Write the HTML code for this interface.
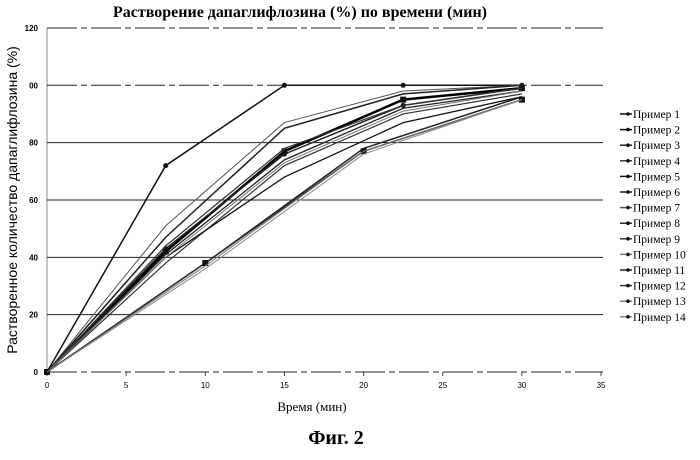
<!DOCTYPE html>
<html><head><meta charset="utf-8"><style>
body{margin:0;background:#fff;width:700px;height:455px;overflow:hidden;font-family:"Liberation Serif",serif}
</style></head><body>
<svg width="700" height="455" id="chart">
<text x="300" y="17" text-anchor="middle" font-size="16" font-weight="bold">Растворение дапаглифлозина (%) по времени (мин)</text>
<text x="312" y="411" text-anchor="middle" font-size="13">Время (мин)</text>
<text transform="translate(17,200) rotate(-90)" text-anchor="middle" font-size="14" font-family="Liberation Sans, sans-serif">Растворенное количество дапаглифлозина (%)</text>
<text x="336" y="444" text-anchor="middle" font-size="20" font-weight="bold">Фиг. 2</text>
<g id="grid"></g><g id="series"></g><g id="legend"></g>
</svg>
<script>
const xTicks=[0,5,10,15,20,25,30,35];
const yTicks=[0,20,40,60,80,100,120];
const yTickLabels=["0","20","40","60","80","00","120"];
const seriesNames=["Пример 1","Пример 2","Пример 3","Пример 4","Пример 5","Пример 6","Пример 7","Пример 8","Пример 9","Пример 10","Пример 11","Пример 12","Пример 13","Пример 14"];
const timesFast=[0,7.5,15,22.5,30];
const timesSlow=[0,10,20,30];
const s1=[0,72,100,100,100];
const s2=[0,42,77,95,99];
const s3=[0,41,74,92,98];
const s4=[0,38,72,90,97];
const s5=[0,40,68,87,96];
const s6=[0,43,76,93,99];
const s7=[0,51,87,98,100];
const s8=[0,47,85,97,100];
const s9=[0,44,78,93,99];
const s10=[0,40,73,91,98];
const s11=[0,38,78,96];
const s12=[0,38,77,95];
const s13=[0,37,77,95];
const s14=[0,36,76,95];
const X=v=>47+v*15.83, Y=v=>372-v*2.867;
const NS="http://www.w3.org/2000/svg";
function mk(t,a,p){const e=document.createElementNS(NS,t);for(const k in a)e.setAttribute(k,a[k]);p.appendChild(e);return e;}
const grid=document.getElementById('grid');
mk('line',{x1:X(0),y1:Y(0),x2:X(0),y2:Y(120),stroke:'#888','stroke-width':1},grid);
yTicks.forEach((v,i)=>{
 const l=mk('line',{x1:X(0),y1:Y(v),x2:603,y2:Y(v),stroke:'#222','stroke-width':1,'stroke-dasharray':(v==0||v==100||v==120)?'30,4,6,4':'none'},grid);
 
 
 const t=mk('text',{x:38,y:Y(v)+3,'text-anchor':'end','font-size':8,'font-weight':'bold','font-family':'Liberation Sans, sans-serif'},grid);t.textContent=yTickLabels[i];
 
 
});
xTicks.forEach(v=>{
 mk('line',{x1:X(v),y1:Y(0),x2:X(v),y2:Y(0)+4,stroke:'#444'},grid);
 const t=mk('text',{x:X(v),y:Y(0)+16,'text-anchor':'middle','font-size':8,'font-family':'Liberation Sans, sans-serif'},grid);t.textContent=v;
 
 
});
const all=[s1,s2,s3,s4,s5,s6,s7,s8,s9,s10,s11,s12,s13,s14];
const widths=[1.5,2.5,1.3,1.2,1.3,1.5,1,1.5,1.2,1,1.5,1.5,1,1];
const cols=['#111','#000','#222','#333','#111','#222','#555','#222','#333','#777','#222','#333','#777','#888'];
const sg=document.getElementById('series'), lg=document.getElementById('legend');
all.forEach((d,i)=>{
 const ts=d.length==5?timesFast:timesSlow;
 const p=mk('polyline',{points:d.map((v,j)=>X(ts[j])+','+Y(v)).join(' '),fill:'none',stroke:cols[i],'stroke-width':widths[i]},sg);
 
 
 if(i==0||i==1||i==5||i==11){d.forEach((v,j)=>{const m=mk(i==1||i==11?'rect':'circle',i==1||i==11?{x:X(ts[j])-3,y:Y(v)-3,width:6,height:6,fill:'#111'}:{cx:X(ts[j]),cy:Y(v),r:2.5,fill:'#111'},sg);
  
  });}
 const ly=117+i*15.6;
 const g=mk('g',{},lg);
 
 
 mk('line',{x1:620,y1:ly-3,x2:632,y2:ly-3,stroke:cols[i],'stroke-width':1.5},g);
 mk('circle',{cx:628,cy:ly-3,r:1.8,fill:'#111'},g);
 const t=mk('text',{x:633,y:ly+1,'font-size':11.5},g);t.textContent=seriesNames[i];
});
</script>
</body></html>
